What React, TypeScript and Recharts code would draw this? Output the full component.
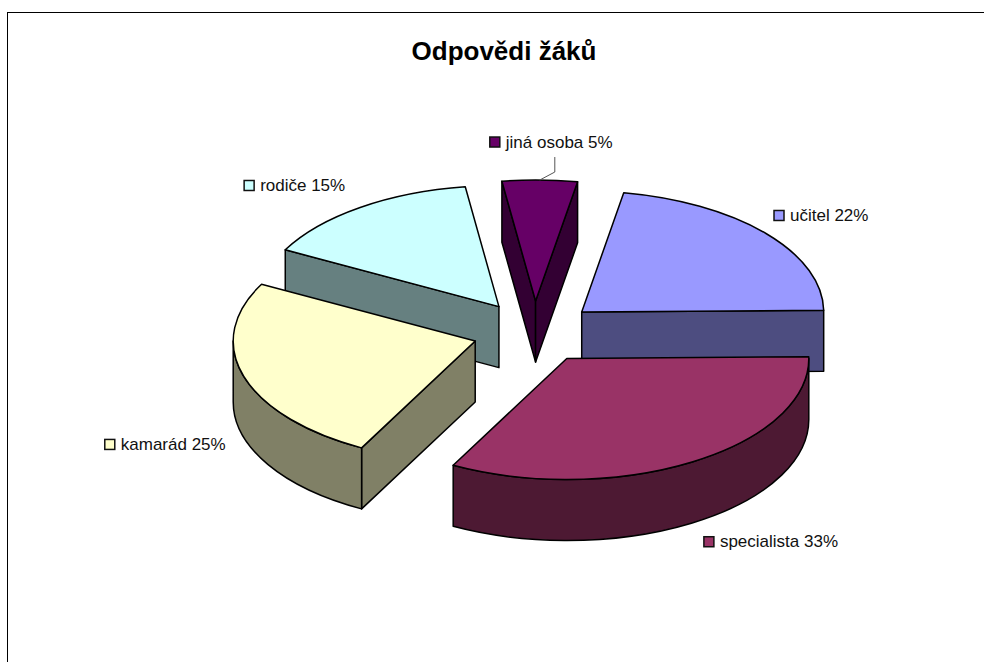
import { PieChart, Pie, Cell } from "recharts";

// poradi je zaroven poradi kresleni: zadni dily prvni, predni posledni
const names = ["rodiče", "jiná osoba", "učitel", "specialista", "kamarád"];
const shares = [15, 5, 22, 33, 25];
const topColors = ["#CCFFFF", "#660066", "#9999FF", "#993366", "#FFFFCC"];
const sideColors = ["#668080", "#330033", "#4D4D80", "#4D1933", "#808066"];

const WIDTH = 984;
const HEIGHT = 662;
const RADIUS = 242;
const TILT = 0.5; // zplosteni elipsy
const DEPTH = 61; // vyska valce
const EXPLODE = 62;
const FONT = "'Liberation Sans', Arial, sans-serif";

// posun popisku od okraje vysece
const labelNudges = [
    { dx: -116, dy: -22 },
    { dx: -50, dy: -38 },
    { dx: 8, dy: -18 },
    { dx: 11, dy: 80 },
    { dx: -139, dy: 68 },
];

const chartData = names.map((name, i) => ({ name, value: shares[i] }));
const RAD = Math.PI / 180;

function apexOf(cx: number, cy: number, midAngle: number) {
    return {
        x: cx + EXPLODE * Math.cos(midAngle * RAD),
        y: cy - EXPLODE * 0.5 * Math.sin(midAngle * RAD),
    };
}

function rim(ax: number, ay: number, r: number, angle: number, drop = 0) {
    const x = ax + r * Math.cos(angle * RAD);
    const y = ay - r * TILT * Math.sin(angle * RAD) + drop;
    return `${x.toFixed(2)} ${y.toFixed(2)}`;
}

// jedna vysec: bocni steny, vnejsi plast a nakonec horni plocha
function Slice3D(props: any) {
    const { cx, cy, outerRadius: r, startAngle, endAngle, index } = props;
    const apex = apexOf(cx, cy, (startAngle + endAngle) / 2);
    const ax = apex.x;
    const ay = apex.y;
    const side = sideColors[index];
    const top = topColors[index];
    const centre = `${ax.toFixed(2)} ${ay.toFixed(2)}`;
    const centreLow = `${ax.toFixed(2)} ${(ay + DEPTH).toFixed(2)}`;
    const ry = r * TILT;
    const large = Math.abs(startAngle - endAngle) > 180 ? 1 : 0;

    // plast je videt jen na predni strane (uhly -180 az 0)
    const hi = Math.min(startAngle, 0);
    const lo = Math.max(endAngle, -180);

    // bocni stena se kresli jen kdyz miri k divakovi
    const faces: number[] = [];
    if (Math.cos(startAngle * RAD) < 0) faces.push(startAngle);
    if (Math.cos(endAngle * RAD) > 0) faces.push(endAngle);

    return (
        <g stroke="#000" strokeWidth={1.5} strokeLinejoin="round">
            {faces.map((a) => (
                <path
                    key={a}
                    fill={side}
                    d={`M${centre} L${rim(ax, ay, r, a)} L${rim(ax, ay, r, a, DEPTH)} L${centreLow} Z`}
                />
            ))}
            {hi > lo && (
                <path
                    fill={side}
                    d={`M${rim(ax, ay, r, hi)} A${r} ${ry} 0 0 1 ${rim(ax, ay, r, lo)} L${rim(ax, ay, r, lo, DEPTH)} A${r} ${ry} 0 0 0 ${rim(ax, ay, r, hi, DEPTH)} Z`}
                />
            )}
            <path
                fill={top}
                d={`M${centre} L${rim(ax, ay, r, startAngle)} A${r} ${ry} 0 ${large} 1 ${rim(ax, ay, r, endAngle)} Z`}
            />
        </g>
    );
}

function SliceLabel(props: any) {
    const { cx, cy, midAngle, outerRadius: r, index, name, value } = props;
    const apex = apexOf(cx, cy, midAngle);
    const rimX = apex.x + r * Math.cos(midAngle * RAD);
    const rimY = apex.y - r * TILT * Math.sin(midAngle * RAD);
    const x = rimX + labelNudges[index].dx;
    const y = rimY + labelNudges[index].dy;

    return (
        <g>
            {name === "jiná osoba" && (
                <polyline
                    points={`${rimX},${rimY} ${rimX + 15},${rimY - 8} ${rimX + 15},${rimY - 23}`}
                    fill="none"
                    stroke="#555"
                    strokeWidth={1}
                />
            )}
            <rect
                x={x}
                y={y - 5}
                width={10}
                height={10}
                fill={topColors[index]}
                stroke="#111"
                strokeWidth={1.5}
            />
            <text
                x={x + 16}
                y={y + 5.5}
                fontFamily={FONT}
                fontSize={17}
                fill="#111"
                stroke="none"
            >
                {`${name} ${value}%`}
            </text>
        </g>
    );
}

export default function App() {
    return (
        <div style={{ position: "absolute", left: 0, top: 0, width: WIDTH, height: HEIGHT }}>
            <div
                style={{
                    position: "absolute",
                    left: 7,
                    top: 12,
                    right: 0,
                    bottom: 0,
                    borderLeft: "1.5px solid #000",
                    borderTop: "1.5px solid #000",
                }}
            />
            <div style={{ position: "absolute", left: 0, top: 0 }}>
                <PieChart width={WIDTH} height={HEIGHT} margin={{ top: 0, right: 0, bottom: 0, left: 0 }}>
                    <text
                        x={504}
                        y={60}
                        textAnchor="middle"
                        fontFamily={FONT}
                        fontWeight="bold"
                        fontSize={26}
                        fill="#000"
                    >
                        Odpovědi žáků
                    </text>
                    <Pie
                        data={chartData}
                        dataKey="value"
                        nameKey="name"
                        cx={534.5}
                        cy={332}
                        innerRadius={0}
                        outerRadius={RADIUS}
                        startAngle={152}
                        endAngle={-208}
                        isAnimationActive={false}
                        shape={Slice3D}
                        label={SliceLabel}
                        labelLine={false}
                    >
                        {names.map((name, i) => (
                            <Cell key={name} fill={topColors[i]} />
                        ))}
                    </Pie>
                </PieChart>
            </div>
        </div>
    );
}
